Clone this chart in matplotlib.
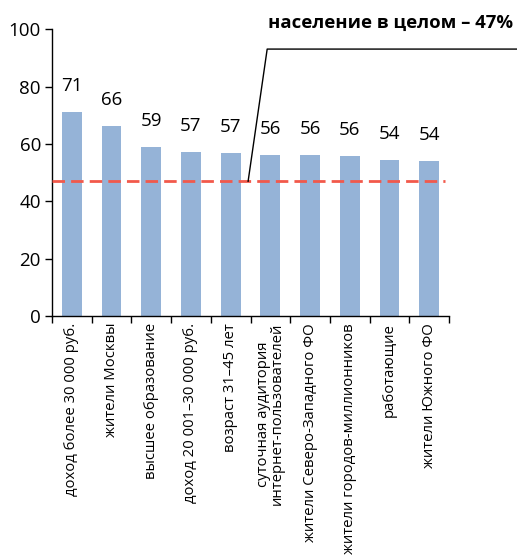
import matplotlib
matplotlib.use("Agg")
import matplotlib.pyplot as plt
import numpy as np

categories = [
    "доход более 30 000 руб.",
    "жители Москвы",
    "высшее образование",
    "доход 20 001–30 000 руб.",
    "возраст 31–45 лет",
    "суточная аудитория\nинтернет-пользователей",
    "жители Северо-Западного ФО",
    "жители городов-миллионников",
    "работающие",
    "жители Южного ФО",
]
values = [71.2, 66.3, 59.0, 57.3, 56.9, 56.2, 56.2, 55.8, 54.4, 54.1]
value_labels = ["71", "66", "59", "57", "57", "56", "56", "56", "54", "54"]
population_level = 47
population_text = "население в целом – 47%"
yticks = [0, 20, 40, 60, 80, 100]

plt.rcParams['font.family'] = ['Open Sans', 'DejaVu Sans']

W, H = 517, 556
fig = plt.figure(figsize=(W / 100, H / 100), dpi=100)
ax = fig.add_axes([52 / W, 1 - 316 / H, (449 - 52) / W, (316 - 29.3) / H])

x = np.arange(len(categories))
ax.bar(x, values, width=0.5, color='#95B3D7', zorder=2)
ax.axhline(population_level, xmin=0, xmax=0.99, color='#F2594B', lw=2.0,
           dashes=(4.5, 2.2), zorder=3)

for xi, v, lab in zip(x, values, value_labels):
    ax.annotate(lab, (xi, v), xytext=(0, 18.5), textcoords='offset points',
                ha='center', va='center', fontsize=13.5)

ax.set_xlim(-0.5, len(categories) - 0.5)
ax.set_ylim(0, 100)
ax.set_yticks(yticks)
ax.tick_params(axis='y', labelsize=13.5, length=5, width=1, direction='out', pad=3)
ax.set_xticks(x)
ax.set_xticklabels(categories, rotation=90, fontsize=10.7, linespacing=0.95)
ax.tick_params(axis='x', which='major', length=0, pad=5)
ax.set_xticks(np.arange(-0.5, len(categories), 1), minor=True)
ax.tick_params(axis='x', which='minor', length=5, width=1, direction='out')
for s in ['top', 'right']:
    ax.spines[s].set_visible(False)
for s in ['left', 'bottom']:
    ax.spines[s].set_linewidth(1.0)

# leader line from the reference line to the caption
ax.plot([4.44, 4.92, 11.3], [population_level, 93.1, 93.1], color='black',
        lw=1.0, clip_on=False, zorder=4)
fig.text(513 / W, 1 - 23 / H, population_text, ha='right', va='center',
         fontsize=13.3, fontweight='bold')

fig.savefig('out.png', dpi=100)
